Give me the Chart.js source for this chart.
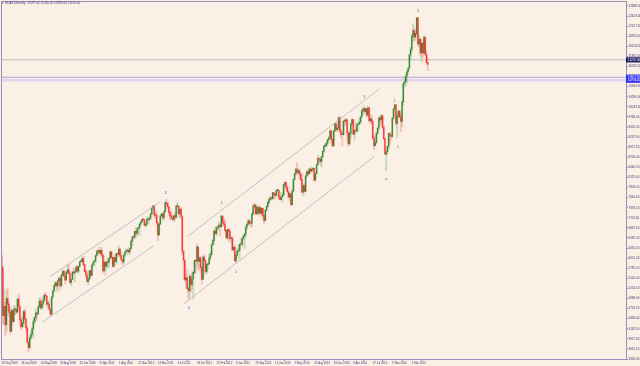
<!DOCTYPE html>
<html><head><meta charset="utf-8">
<script src="https://cdn.jsdelivr.net/npm/chart.js@4.4.1/dist/chart.umd.min.js"></script>
<style>html,body{margin:0;padding:0;background:#FAF0E6;overflow:hidden}canvas{display:block}</style>
</head><body>
<canvas id="c" width="640" height="366" style="width:640px;height:366px"></canvas>
<script>
// ---- data (weekly OHLC, one entry per bar) ----
const opens = [6080,5797,4544,4781,4295,4988,4840,4620,4127,4670,
4382,4696,4702,4629,4973,4783,4424,4243,4338,4644,
4447,4216,3843,3695,3953,4044,4188,4380,4492,4609,
4580,4770,4922,4738,4840,4941,5077,5052,4839,4844,
4708,4576,5029,5191,5332,5398,5322,5462,5517,5321,
5608,5703,5581,5476,5676,5743,5642,5414,5489,5684,
5663,5685,5817,5709,5831,5957,5957,6037,5875,5695,
5608,5434,5500,5722,5598,5877,5945,5983,6120,6235,
6250,6180,6259,6136,5715,5946,5829,5946,5938,6049,
6216,6071,5835,6066,5956,6167,6148,6291,6110,6006,
5951,6134,6214,6241,6263,6212,6298,6493,6605,6601,
6754,6703,6822,6849,6947,7006,7075,7057,6914,6947,
7075,7062,7102,7216,7371,7426,7185,7178,6981,6664,
6946,7166,7217,7113,7273,7514,7492,7405,7250,7163,
7108,7069,7164,7122,7419,7419,7220,7344,7159,6236,
5997,5480,5537,5247,5189,5574,5355,5502,5675,5989,
5971,6346,5966,6057,5800,5492,6080,5986,5701,5878,
5898,6057,6143,6404,6511,6766,6692,6849,6864,6921,
6880,7157,6996,6947,6775,6583,6801,6762,6561,6579,
6271,6340,5978,6130,6229,6263,6416,6410,6558,6630,
6689,6865,6944,7041,6971,6970,7214,7412,7451,7216,
7398,7232,7380,7231,7363,7163,7040,7309,7405,7518,
7596,7636,7612,7776,7715,7702,7833,7833,7652,7593,
7661,7708,7986,8043,7913,7795,7659,7745,7459,7814,
8122,8279,8398,8305,8349,8254,8127,7789,7959,7806,
8213,8331,8275,8398,8338,8391,8416,8103,8275,8509,
8675,8661,8592,8725,8868,9001,9010,9078,9168,9225,
9405,9172,9006,9400,9589,9435,9473,9742,9392,9306,
9301,9662,9657,9692,9350,9056,9342,9587,9695,9315,
9409,9401,9556,9581,9630,9768,9943,9987,9912,9987,
9815,10009,9666,9720,9644,9210,9009,9092,9339,9470,
9747,9691,9799,9490,9195,8788,8850,8988,9326,9291,
9252,9732,9980,10087,9594,9787,9922,9764,9648,10167,
10649,10694,10846,10963,11050,11401,11551,11901,12039,11868,
11967,12375,11689,11811,11454,11709,11447,11865,11413,11197];

const highs = [6180,5830,5240,4900,5200,5270,4900,4750,4720,4710,
4800,4800,4720,4985,5110,4800,4490,4500,4680,4720,
4460,4250,3890,4000,4120,4260,4450,4510,4720,4620,
4790,5010,4990,4930,5050,5110,5160,5060,4890,4950,
4720,5040,5200,5340,5440,5430,5480,5570,5520,5620,
5760,5720,5720,5710,5880,5890,5700,5500,5700,5800,
5750,5840,5860,5840,5960,6010,6070,6100,5900,5750,
5720,5560,5730,5730,5880,5960,6000,6140,6240,6270,
6340,6270,6330,6150,6100,5950,6000,6050,6060,6240,
6230,6080,6080,6160,6170,6200,6370,6300,6230,6030,
6150,6230,6300,6270,6330,6320,6510,6610,6650,6760,
6870,6840,6870,6960,7030,7090,7080,7080,7000,7140,
7110,7140,7230,7380,7440,7430,7270,7250,6990,6950,
7170,7230,7220,7290,7530,7600,7520,7410,7290,7290,
7180,7180,7250,7440,7520,7420,7350,7390,7160,6250,
6000,5650,5770,5290,5620,5620,5700,5690,5990,6020,
6430,6350,6120,6090,5820,6110,6150,6000,5910,5900,
6170,6210,6420,6560,6780,6860,6890,6920,7000,6970,
7190,7170,7090,7060,6810,6820,6830,6800,6640,6610,
6420,6360,6180,6310,6410,6430,6580,6580,6650,6710,
6930,6970,7060,7080,7000,7220,7480,7480,7480,7410,
7400,7440,7390,7380,7370,7190,7320,7450,7540,7640,
7670,7670,7780,7780,7750,7860,7870,7840,7720,7780,
7770,8000,8070,8060,7960,7900,7770,7760,7860,8130,
8290,8410,8560,8410,8400,8300,8270,8010,8010,8240,
8340,8360,8410,8420,8440,8440,8420,8290,8520,8770,
8690,8670,8730,8880,9010,9070,9130,9190,9260,9420,
9410,9230,9400,9600,9620,9520,9760,9800,9450,9330,
9670,9720,9730,9700,9390,9350,9600,9720,9700,9430,
9620,9610,9620,9740,9780,9950,10000,10050,10000,9990,
10050,10020,9830,9800,9680,9280,9260,9380,9510,9750,
9770,9830,9810,9550,9200,8890,9000,9340,9370,9330,
9740,9990,10090,10090,9880,9940,9930,9880,10190,10650,
10810,10900,11000,11070,11410,11600,11950,12220,12120,12050,
12390,12390,11930,11860,11720,11810,11920,11890,11500,11330];

const lows = [5680,4300,4330,4015,4100,4660,4510,4050,4110,4300,
4370,4560,4560,4620,4690,4280,4170,4240,4230,4440,
4100,3830,3588,3660,3890,3990,3950,4300,4390,4420,
4560,4740,4700,4700,4750,4900,4980,4790,4690,4700,
4540,4560,5000,5150,5280,5240,5160,5430,5230,5320,
5570,5550,5370,5460,5650,5620,5380,5320,5480,5630,
5430,5680,5680,5650,5820,5940,5940,5860,5690,5540,
5420,5340,5480,5520,5590,5830,5850,5920,6100,6150,
6170,6110,6080,5670,5700,5600,5760,5870,5800,6030,
6030,5810,5830,5950,5880,6080,6140,6060,6000,5860,
5900,6080,6200,6150,6190,6140,6290,6380,6540,6570,
6660,6620,6680,6660,6920,6990,7010,6900,6880,6880,
6950,7010,7060,7200,7330,7130,7090,6930,6510,6640,
6930,7130,7050,7050,7260,7400,7330,7160,7060,7080,
7050,7000,7050,7100,7390,7130,7100,7100,6150,5500,
5450,5260,5230,4965,5020,5160,5250,4970,5650,5640,
5850,5740,5770,5680,5370,5480,5820,5630,5640,5750,
5880,6000,6130,6390,6400,6690,6640,6800,6790,6630,
6870,6910,6890,6760,6560,6550,6490,6520,6440,6250,
6220,5970,5910,6050,6190,6010,6400,6350,6530,6300,
6600,6810,6920,6930,6860,6880,7180,7370,7210,7200,
7180,7230,7150,7190,7080,6950,7030,7290,7380,7480,
7550,7580,7600,7640,7600,7680,7760,7580,7590,7580,
7520,7700,7930,7840,7780,7640,7560,7420,7450,7790,
8100,8230,8260,8260,8120,8080,7760,7680,7780,7800,
8180,8220,8250,8280,8330,8320,8080,8080,8270,8500,
8580,8500,8440,8690,8840,8970,8980,9010,9110,9210,
9080,8990,9000,9390,9380,9390,9450,9370,9210,9000,
9290,9550,9540,9160,8990,9040,9200,9550,9300,9150,
9380,9350,9390,9550,9580,9760,9830,9890,9850,9760,
9790,9650,9590,9560,9180,8900,9000,9060,9300,9440,
9600,9540,9430,9160,8780,8350,8770,8900,9060,9150,
9220,9700,9810,9540,9220,9770,9730,9380,9500,10080,
10550,10580,10670,10880,11020,11280,11480,11760,11760,11790,
11930,11630,11600,11370,11220,11330,11440,11380,11150,10990];

const closes = [5797,4544,4781,4295,4988,4840,4620,4127,4670,4382,
4696,4702,4629,4973,4783,4424,4243,4338,4644,4447,
4216,3843,3695,3953,4044,4188,4380,4492,4609,4580,
4770,4922,4738,4840,4941,5077,5052,4839,4844,4708,
4576,5029,5191,5332,5398,5322,5462,5517,5321,5608,
5703,5581,5476,5676,5743,5642,5414,5489,5684,5663,
5685,5817,5709,5831,5957,5957,6037,5875,5695,5608,
5434,5500,5722,5598,5877,5945,5983,6120,6235,6250,
6180,6259,6136,5715,5946,5829,5946,5938,6049,6216,
6071,5835,6066,5956,6167,6148,6291,6110,6006,5951,
6134,6214,6241,6263,6212,6298,6493,6605,6601,6754,
6703,6822,6849,6947,7006,7075,7057,6914,6947,7075,
7062,7102,7216,7371,7426,7185,7178,6981,6664,6946,
7166,7217,7113,7273,7514,7492,7405,7250,7163,7108,
7069,7164,7122,7419,7419,7220,7344,7159,6236,5997,
5480,5537,5247,5189,5574,5355,5502,5675,5989,5971,
6346,5966,6057,5800,5492,6080,5986,5701,5878,5898,
6057,6143,6404,6511,6766,6692,6849,6864,6921,6880,
7157,6996,6947,6775,6583,6801,6762,6561,6579,6271,
6340,5978,6130,6229,6263,6416,6410,6558,6630,6689,
6865,6944,7041,6971,6970,7214,7412,7451,7216,7398,
7232,7380,7231,7363,7163,7040,7309,7405,7518,7596,
7636,7612,7776,7715,7702,7833,7833,7652,7593,7661,
7708,7986,8043,7913,7795,7659,7745,7459,7814,8122,
8279,8398,8305,8349,8254,8127,7789,7959,7806,8213,
8331,8275,8398,8338,8391,8416,8103,8275,8509,8675,
8661,8592,8725,8868,9001,9010,9078,9168,9225,9405,
9172,9006,9400,9589,9435,9473,9742,9392,9306,9301,
9662,9657,9692,9350,9056,9342,9587,9695,9315,9409,
9401,9556,9581,9630,9768,9943,9987,9912,9987,9815,
10009,9666,9720,9644,9210,9009,9092,9339,9470,9747,
9691,9799,9490,9195,8788,8850,8988,9326,9291,9252,
9732,9980,10087,9594,9787,9922,9764,9648,10167,10649,
10694,10846,10963,11050,11401,11551,11901,12039,11868,11967,
12375,11689,11811,11454,11709,11447,11865,11413,11197,11150];

// x-axis date labels (bar index -> label)
const xTickIndex = [0,16,32,48,64,80,96,112,128,144,160,176,192,208,224,240,256,272,288,304,320,336];
const xTickLabels = ["28 Sep 2008","18 Jan 2009","10 May 2009","30 Aug 2009","20 Dec 2009","11 Apr 2010",
"1 Aug 2010","21 Nov 2010","13 Mar 2011","3 Jul 2011","23 Oct 2011","12 Feb 2012","3 Jun 2012",
"23 Sep 2012","13 Jan 2013","5 May 2013","25 Aug 2013","15 Dec 2013","6 Apr 2014","27 Jul 2014",
"9 Nov 2014","1 Mar 2015"];

// price-axis labels
const yTickValues = [3396.00,3661.50,3927.00,4192.50,4458.00,4723.50,4989.00,5254.50,5520.00,5785.50,
6051.00,6316.50,6582.00,6847.50,7113.00,7378.50,7644.00,7909.50,8175.00,8440.50,
8706.00,8971.50,9237.00,9502.50,9768.00,10033.50,10299.00,10564.50,10830.00,11095.50,
11361.00,11626.50,11892.00,12157.50,12423.00,12688.50];

// trend channels: [barIndex, price] end points
const channelLines = [
  [[32.9,4358],[124.6,6373]],
  [[39.8,5566],[130.2,7536]],
  [[149.3,4849],[304.9,8719]],
  [[152.1,6617],[309.3,10507]]
];

// wave labels: bar index, price, text
const waveIdx   = [134.3, 153.4, 180.3, 191.8, 297.0, 315.1, 321.8, 324.6, 341.0];
const wavePrice = [7773, 4736, 7494, 5697, 10294, 8133, 10195, 8984, 12556];
const waveText  = ["3", "4", "1", "2", "3", "iv", "1", "2", "3"];
const waveBlue  = [true, true, false, false, false, false, false, false, false];

// horizontal levels: price, kind
const levelPrices = [11270, 10812, 10733];
const levelKinds  = ["bid", "line", "band"];

const symbolName = "GDAXI,Weekly";

// ---- build ----
const n = closes.length;
const idx = closes.map((_, i) => i);
const isUp = idx.map(i => closes[i] >= opens[i]);
const wickData = idx.map(i => ({x: i, y: [lows[i], highs[i]]}));
const bodyData = idx.map(i => ({x: i, y: [opens[i], closes[i]]}));

const AXIS = '#9890b8';
const TXT = '#3a3a7a';
const FONT = '"Liberation Sans", Arial, sans-serif';

const lineSets = channelLines.map(seg => ({
  type: 'line',
  data: seg.map(p => ({x: p[0], y: p[1]})),
  borderColor: '#b8b4b4', borderWidth: 0.8, pointRadius: 0, fill: false, order: 0
}));

const decor = {
  id: 'decor',
  beforeDraw(chart) {
    const ctx = chart.ctx;
    ctx.save(); ctx.fillStyle = '#FAF0E6'; ctx.fillRect(0, 0, chart.width, chart.height); ctx.restore();
  },
  beforeDatasetsDraw(chart) {
    const {ctx, chartArea: a, scales: {y}} = chart;
    ctx.save();
    levelPrices.forEach((p, k) => {
      const py = y.getPixelForValue(p);
      if (levelKinds[k] === 'band') { ctx.strokeStyle = '#ddd4ee'; ctx.lineWidth = 2.4; }
      else if (levelKinds[k] === 'line') { ctx.strokeStyle = '#a8a0dc'; ctx.lineWidth = 1; }
      else { ctx.strokeStyle = '#c0b8c4'; ctx.lineWidth = 1; }
      ctx.beginPath(); ctx.moveTo(a.left, py); ctx.lineTo(a.right, py); ctx.stroke();
    });
    ctx.restore();
  },
  afterDraw(chart) {
    const {ctx, chartArea: a, scales: {x, y}} = chart;
    ctx.save();
    ctx.strokeStyle = AXIS; ctx.lineWidth = 1;
    ctx.beginPath(); ctx.moveTo(a.left + 0.5, a.bottom); ctx.lineTo(a.left + 0.5, a.top + 0.5); ctx.lineTo(a.right, a.top + 0.5); ctx.stroke();
    ctx.font = '3.8px ' + FONT; ctx.textAlign = 'center'; ctx.textBaseline = 'middle';
    waveText.forEach((t, k) => {
      ctx.fillStyle = waveBlue[k] ? '#4848e8' : '#707070';
      ctx.fillText(t, x.getPixelForValue(waveIdx[k]), y.getPixelForValue(wavePrice[k]));
    });
    ctx.textAlign = 'left'; ctx.font = '3px ' + FONT;
    levelPrices.forEach((p, k) => {
      const py = y.getPixelForValue(p);
      ctx.fillStyle = levelKinds[k] === 'bid' ? '#20206a' : '#3434f0';
      ctx.fillRect(a.right, py - 2.6, chart.width - a.right, 5.2);
      ctx.fillStyle = '#ffffff';
      ctx.fillText(p.toFixed(2), a.right + 2, py + 0.2);
    });
    const last = n - 1;
    ctx.fillStyle = TXT; ctx.font = '3.1px ' + FONT; ctx.textBaseline = 'middle';
    ctx.fillText('\u25BE ' + symbolName + '  ' + [opens[last], highs[last], lows[last], closes[last]].map(v => v.toFixed(2)).join(' '), 2, 3.6);
    ctx.restore();
  }
};

new Chart(document.getElementById('c'), {
  data: {
    datasets: [
      { type: 'bar', data: wickData, grouped: false, barThickness: 1.4, borderWidth: 0,
        backgroundColor: idx.map(i => isUp[i] ? 'rgba(140,185,130,0.40)' : 'rgba(245,130,130,0.40)'), order: 2 },
      { type: 'bar', data: bodyData, grouped: false, barThickness: 0.75, borderWidth: 0, minBarLength: 1,
        backgroundColor: idx.map(i => isUp[i] ? 'rgba(30,125,30,0.85)' : 'rgba(255,30,30,0.85)'), order: 1 },
      ...lineSets
    ]
  },
  options: {
    responsive: false, animation: false, devicePixelRatio: 1,
    layout: { padding: { top: 1, left: 1, right: 0, bottom: 0 } },
    plugins: { legend: { display: false }, tooltip: { enabled: false } },
    events: [],
    scales: {
      x: {
        type: 'linear', min: -0.49, max: 511.4, offset: false,
        grid: { display: true, drawOnChartArea: false, drawTicks: true, tickLength: 2, color: AXIS },
        border: { display: true, color: AXIS },
        ticks: { color: TXT, font: { size: 2.8, family: FONT }, align: 'start', maxRotation: 0, autoSkip: false, padding: 0.3,
          callback: (v, i) => xTickLabels[i] },
        afterBuildTicks: s => { s.ticks = xTickIndex.map(v => ({value: v})); },
        afterFit: s => { s.height = 7; s.paddingLeft = 0; s.paddingRight = 0; }
      },
      y: {
        type: 'linear', position: 'right', min: 3396, max: 12819,
        grid: { display: true, drawOnChartArea: false, drawTicks: true, tickLength: 2, color: AXIS },
        border: { display: true, color: AXIS },
        ticks: { color: TXT, font: { size: 3, family: FONT }, padding: 0.5, autoSkip: false,
          callback: v => Number(v).toFixed(2) },
        afterBuildTicks: s => { s.ticks = yTickValues.map(v => ({value: v})); },
        afterFit: s => { s.width = 14; s.paddingTop = 0; s.paddingBottom = 0; }
      }
    }
  },
  plugins: [decor]
});
</script>
</body></html>
